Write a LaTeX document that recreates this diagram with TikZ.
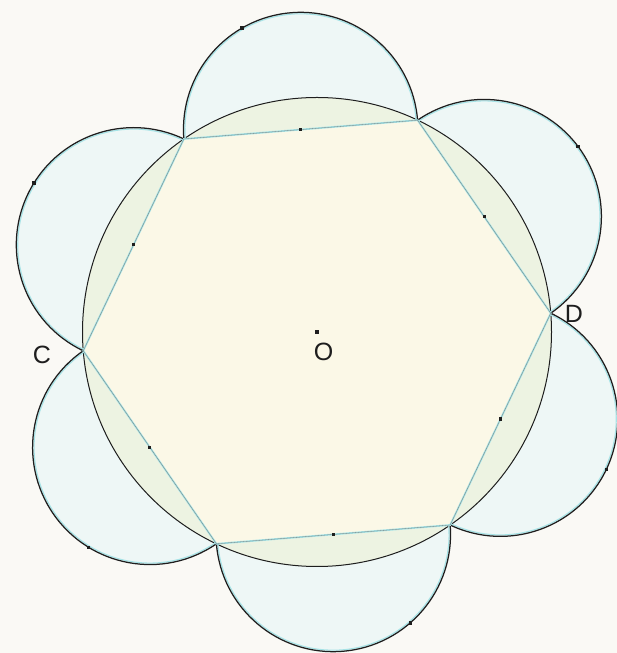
\documentclass[tikz,border=0pt]{standalone}
\usepackage{fontspec}
\setmainfont{Liberation Sans}
\usetikzlibrary{calc}
\definecolor{bgc}{HTML}{FAF9F5}
\definecolor{cyanfill}{HTML}{EEF7F6}
\definecolor{greenfill}{HTML}{EDF3E2}
\definecolor{yellowfill}{HTML}{FBF8E7}
\definecolor{cyanline}{HTML}{A6E3E6}
\definecolor{darkline}{HTML}{1E1E1E}
\tikzset{
  ptdot/.style={fill=darkline,inner sep=0pt,minimum size=3.2pt,draw=none},
  lbl/.style={font=\fontsize{25}{28}\selectfont,text=darkline,inner sep=0pt},
}
\begin{document}
\begin{tikzpicture}[x=1pt,y=1pt]
\useasboundingbox (0,0) rectangle (617,653);
\fill[bgc] (0,0) rectangle (617,653);
\coordinate (O) at (317,321);
\foreach \i in {0,...,5}{
  \coordinate (V\i) at ($(O)+({4.6+60*\i}:234.5pt)$);
  \coordinate (M\i) at ($(O)+({34.6+60*\i}:203.08pt)$);
}
% semicircles fill
\foreach \i in {0,...,5}{
  \pgfmathsetmacro{\sa}{4.6+60*\i-60}
  \pgfmathsetmacro{\ea}{4.6+60*\i+120}
  \fill[cyanfill] (V\i) arc[start angle=\sa, end angle=\ea, radius=117.25pt] -- cycle;
}
% circle
\fill[greenfill] (O) circle[radius=234.5pt];
% hexagon
\fill[yellowfill] (V0) -- (V1) -- (V2) -- (V3) -- (V4) -- (V5) -- cycle;
\draw[darkline,line width=1pt] (O) circle[radius=234.5pt];
% semicircle arcs
\foreach \i in {0,...,5}{
  \pgfmathsetmacro{\sa}{4.6+60*\i-60}
  \pgfmathsetmacro{\ea}{4.6+60*\i+120}
  \draw[cyanline,line width=1.1pt] ($(M\i)+(\sa:115.8pt)$) arc[start angle=\sa, end angle=\ea, radius=115.8pt];
  \draw[darkline,line width=1.25pt] (V\i) arc[start angle=\sa, end angle=\ea, radius=117.25pt];
}
% hexagon sides
\draw[cyanline,line width=1.8pt] (V0) -- (V1) -- (V2) -- (V3) -- (V4) -- (V5) -- cycle;
\draw[darkline!60,line width=0.3pt] (V0) -- (V1) -- (V2) -- (V3) -- (V4) -- (V5) -- cycle;
% midpoints
\foreach \i in {0,...,5}{
  \node[ptdot] (m\i) at (M\i) {};
}
% points on arcs
\foreach \i/\a in {0/36.9,1/120,2/148.1,3/238.5,4/311,5/334.5}{
  \node[ptdot] (p\i) at ($(M\i)+(\a:117.25pt)$) {};
}
\node[ptdot,minimum size=4pt] (Odot) at (O) {};
\node[lbl] (Olbl) at (323.5,301) {O};
\node[lbl] (Clbl) at (42,298.5) {C};
\node[lbl] (Dlbl) at (574,339) {D};
\end{tikzpicture}
\end{document}
